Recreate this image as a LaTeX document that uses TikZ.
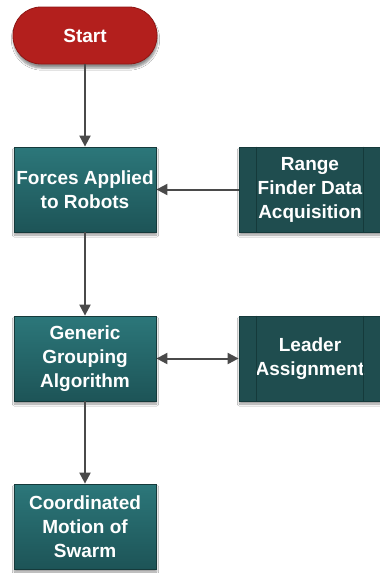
\documentclass[tikz,border=0pt]{standalone}
\usepackage{fontspec}
\setmainfont{Liberation Sans}
\usetikzlibrary{arrows.meta,shadows.blur}
\definecolor{tealtop}{HTML}{2C777A}
\definecolor{tealbot}{HTML}{1D5457}
\definecolor{tealedge}{HTML}{153A3B}
\definecolor{darkbox}{HTML}{1F4D4F}
\definecolor{startred}{HTML}{B31F1D}
\definecolor{startedge}{HTML}{8E1614}
\definecolor{linkgray}{HTML}{4A4A4A}
\tikzset{
  label font/.style={font=\fontsize{19}{24}\selectfont\bfseries, text=white, align=center},
  procbox/.style={label font, draw=tealedge, line width=0.8pt,
    top color=tealtop, bottom color=tealbot,
    minimum width=142pt, minimum height=85pt, inner sep=0pt,
    blur shadow={shadow xshift=0.5pt, shadow yshift=-3pt, shadow blur steps=6, shadow opacity=40}},
  subbox/.style={label font, draw=tealedge, line width=0.8pt, fill=darkbox,
    minimum width=142pt, minimum height=85pt, inner sep=0pt,
    blur shadow={shadow xshift=0.5pt, shadow yshift=-3pt, shadow blur steps=6, shadow opacity=40}},
  startbox/.style={label font, draw=startedge, line width=0.8pt, fill=startred,
    rounded corners=28pt, minimum width=144pt, minimum height=57pt,
    blur shadow={shadow xshift=0.5pt, shadow yshift=-4pt, shadow blur steps=6, shadow opacity=45}},
  link/.style={draw=linkgray, line width=2pt, -{Triangle[length=11pt,width=11pt]}},
  dlink/.style={draw=linkgray, line width=2pt, {Triangle[length=11pt,width=11pt]}-{Triangle[length=11pt,width=11pt]}},
  bar/.style={draw=tealedge, line width=1pt}
}
\begin{document}
\begin{tikzpicture}[x=1pt,y=-1pt]
\useasboundingbox (0,0) rectangle (380,573);
\fill[white] (0,0) rectangle (380,573);

\node[startbox] (start) at (85,35.5) {Start};
\node[procbox] (forces) at (85,189.5) {Forces Applied\\to Robots};
\node[subbox] (range) at (310,189.5) {Range\\Finder Data\\Acquisition};
\node[procbox] (group) at (85,358.5) {Generic\\Grouping\\Algorithm};
\node[subbox] (leader) at (310,358.5) {Leader\\Assignment};
\node[procbox] (swarm) at (85,526.5) {Coordinated\\Motion of\\Swarm};

% side bars of the predefined-process boxes
\foreach \b in {range,leader}{
  \draw[bar] ([xshift=18pt]\b.north west) -- ([xshift=18pt]\b.south west);
  \draw[bar] ([xshift=-18pt]\b.north east) -- ([xshift=-18pt]\b.south east);
}

\draw[link] (start) -- (forces);
\draw[link] (range) -- (forces);
\draw[link] (forces) -- (group);
\draw[dlink] (group) -- (leader);
\draw[link] (group) -- (swarm);
\end{tikzpicture}
\end{document}
